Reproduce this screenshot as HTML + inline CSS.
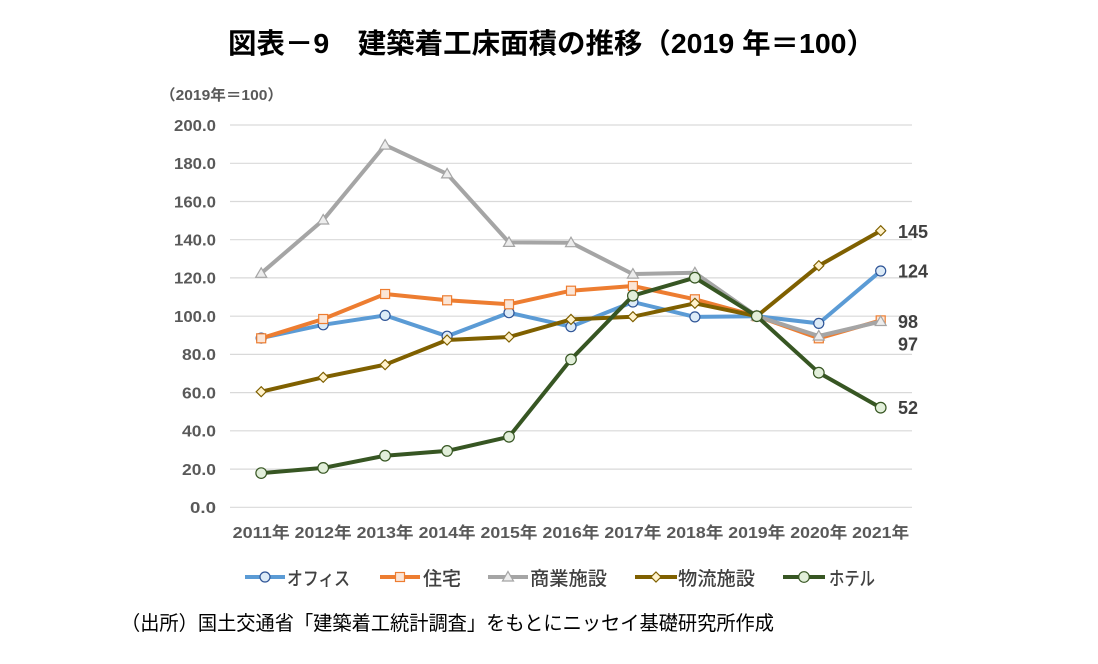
<!DOCTYPE html>
<html>
<head>
<meta charset="utf-8">
<style>
html,body{margin:0;padding:0;background:#fff;}
svg{display:block;}
text{font-family:"Liberation Sans","Noto Sans CJK JP",sans-serif;}
</style>
</head>
<body>
<svg width="1098" height="664" viewBox="0 0 1098 664" xmlns="http://www.w3.org/2000/svg">
<rect width="1098" height="664" fill="#fff"/>
<!-- Title -->
<text x="228" y="53" font-size="28" font-weight="bold" fill="#000" textLength="647" lengthAdjust="spacingAndGlyphs">図表－9　建築着工床面積の推移（2019 年＝100）</text>
<!-- unit -->
<text x="160" y="100" font-size="15" font-weight="bold" fill="#595959" textLength="123" lengthAdjust="spacingAndGlyphs">（2019年＝100）</text>
<!-- gridlines -->
<g stroke="#D9D9D9" stroke-width="1.2">
<line x1="230" x2="912" y1="125.0" y2="125.0"/>
<line x1="230" x2="912" y1="163.3" y2="163.3"/>
<line x1="230" x2="912" y1="201.5" y2="201.5"/>
<line x1="230" x2="912" y1="239.7" y2="239.7"/>
<line x1="230" x2="912" y1="277.9" y2="277.9"/>
<line x1="230" x2="912" y1="316.2" y2="316.2"/>
<line x1="230" x2="912" y1="354.4" y2="354.4"/>
<line x1="230" x2="912" y1="392.6" y2="392.6"/>
<line x1="230" x2="912" y1="430.8" y2="430.8"/>
<line x1="230" x2="912" y1="469.1" y2="469.1"/>
<line x1="230" x2="912" y1="507.3" y2="507.3"/>
</g>
<!-- y labels -->
<g font-size="16" font-weight="bold" fill="#595959">
<text x="174" y="130.8" textLength="42" lengthAdjust="spacingAndGlyphs">200.0</text>
<text x="174" y="169.1" textLength="42" lengthAdjust="spacingAndGlyphs">180.0</text>
<text x="174" y="207.3" textLength="42" lengthAdjust="spacingAndGlyphs">160.0</text>
<text x="174" y="245.5" textLength="42" lengthAdjust="spacingAndGlyphs">140.0</text>
<text x="174" y="283.7" textLength="42" lengthAdjust="spacingAndGlyphs">120.0</text>
<text x="174" y="322.0" textLength="42" lengthAdjust="spacingAndGlyphs">100.0</text>
<text x="182" y="360.2" textLength="34" lengthAdjust="spacingAndGlyphs">80.0</text>
<text x="182" y="398.4" textLength="34" lengthAdjust="spacingAndGlyphs">60.0</text>
<text x="182" y="436.6" textLength="34" lengthAdjust="spacingAndGlyphs">40.0</text>
<text x="182" y="474.9" textLength="34" lengthAdjust="spacingAndGlyphs">20.0</text>
<text x="190" y="513.1" textLength="26" lengthAdjust="spacingAndGlyphs">0.0</text>
</g>
<!-- x labels -->
<g font-size="16" font-weight="bold" fill="#595959" text-anchor="middle">
<text x="261.2" y="538" textLength="57" lengthAdjust="spacingAndGlyphs">2011年</text>
<text x="323.2" y="538" textLength="57" lengthAdjust="spacingAndGlyphs">2012年</text>
<text x="385.1" y="538" textLength="57" lengthAdjust="spacingAndGlyphs">2013年</text>
<text x="447.1" y="538" textLength="57" lengthAdjust="spacingAndGlyphs">2014年</text>
<text x="509.0" y="538" textLength="57" lengthAdjust="spacingAndGlyphs">2015年</text>
<text x="571.0" y="538" textLength="57" lengthAdjust="spacingAndGlyphs">2016年</text>
<text x="632.9" y="538" textLength="57" lengthAdjust="spacingAndGlyphs">2017年</text>
<text x="694.9" y="538" textLength="57" lengthAdjust="spacingAndGlyphs">2018年</text>
<text x="756.8" y="538" textLength="57" lengthAdjust="spacingAndGlyphs">2019年</text>
<text x="818.8" y="538" textLength="57" lengthAdjust="spacingAndGlyphs">2020年</text>
<text x="880.7" y="538" textLength="57" lengthAdjust="spacingAndGlyphs">2021年</text>
</g>

<!-- Office -->
<polyline fill="none" stroke="#5B9BD5" stroke-width="4" stroke-linejoin="round" points="261.2,338.1 323.2,324.8 385.1,315.4 447.1,336.2 509.0,312.7 571.0,326.7 632.9,302.0 694.9,316.9 756.8,316.2 818.8,323.4 880.7,271.0"/>
<g fill="#DDEBF7" stroke="#2F5597" stroke-width="1.2">
<circle cx="261.2" cy="338.1" r="5"/><circle cx="323.2" cy="324.8" r="5"/><circle cx="385.1" cy="315.4" r="5"/><circle cx="447.1" cy="336.2" r="5"/><circle cx="509.0" cy="312.7" r="5"/><circle cx="571.0" cy="326.7" r="5"/><circle cx="632.9" cy="302.0" r="5"/><circle cx="694.9" cy="316.9" r="5"/><circle cx="756.8" cy="316.2" r="5"/><circle cx="818.8" cy="323.4" r="5"/><circle cx="880.7" cy="271.0" r="5"/>
</g>

<!-- Housing -->
<polyline fill="none" stroke="#ED7D31" stroke-width="4" stroke-linejoin="round" points="261.2,338.3 323.2,319.0 385.1,294.0 447.1,300.3 509.0,304.3 571.0,290.7 632.9,286.0 694.9,299.3 756.8,316.2 818.8,338.3 880.7,320.4"/>
<g fill="#FBE5D6" stroke="#ED7D31" stroke-width="1.2">
<rect x="256.7" y="333.8" width="9" height="9"/><rect x="318.7" y="314.5" width="9" height="9"/><rect x="380.6" y="289.5" width="9" height="9"/><rect x="442.6" y="295.8" width="9" height="9"/><rect x="504.5" y="299.8" width="9" height="9"/><rect x="566.5" y="286.2" width="9" height="9"/><rect x="628.4" y="281.5" width="9" height="9"/><rect x="690.4" y="294.8" width="9" height="9"/><rect x="752.3" y="311.7" width="9" height="9"/><rect x="814.3" y="333.8" width="9" height="9"/><rect x="876.2" y="315.9" width="9" height="9"/>
</g>

<!-- Commercial -->
<polyline fill="none" stroke="#A5A5A5" stroke-width="4" stroke-linejoin="round" points="261.2,273.3 323.2,220.0 385.1,145.1 447.1,173.9 509.0,242.4 571.0,242.7 632.9,274.1 694.9,272.8 756.8,316.2 818.8,336.0 880.7,321.5"/>
<g fill="#EDEDED" stroke="#A5A5A5" stroke-width="1.2">
<polygon points="261.2,267.8 266.7,277.3 255.7,277.3"/>
<polygon points="323.2,214.5 328.7,224.0 317.7,224.0"/>
<polygon points="385.1,139.6 390.6,149.1 379.6,149.1"/>
<polygon points="447.1,168.4 452.6,177.9 441.6,177.9"/>
<polygon points="509.0,236.9 514.5,246.4 503.5,246.4"/>
<polygon points="571.0,237.2 576.5,246.7 565.5,246.7"/>
<polygon points="632.9,268.6 638.4,278.1 627.4,278.1"/>
<polygon points="694.9,267.3 700.4,276.8 689.4,276.8"/>
<polygon points="756.8,310.7 762.3,320.2 751.3,320.2"/>
<polygon points="818.8,330.5 824.3,340.0 813.3,340.0"/>
<polygon points="880.7,316.0 886.2,325.5 875.2,325.5"/>
</g>

<!-- Logistics -->
<polyline fill="none" stroke="#7F6000" stroke-width="4" stroke-linejoin="round" points="261.2,391.7 323.2,377.3 385.1,364.7 447.1,340.0 509.0,337.0 571.0,319.4 632.9,316.7 694.9,303.3 756.8,316.2 818.8,265.7 880.7,230.7"/>
<g fill="#FFF2CC" stroke="#7F6000" stroke-width="1.2">
<polygon points="261.2,386.7 266.2,391.7 261.2,396.7 256.2,391.7"/>
<polygon points="323.2,372.3 328.2,377.3 323.2,382.3 318.2,377.3"/>
<polygon points="385.1,359.7 390.1,364.7 385.1,369.7 380.1,364.7"/>
<polygon points="447.1,335.0 452.1,340.0 447.1,345.0 442.1,340.0"/>
<polygon points="509.0,332.0 514.0,337.0 509.0,342.0 504.0,337.0"/>
<polygon points="571.0,314.4 576.0,319.4 571.0,324.4 566.0,319.4"/>
<polygon points="632.9,311.7 637.9,316.7 632.9,321.7 627.9,316.7"/>
<polygon points="694.9,298.3 699.9,303.3 694.9,308.3 689.9,303.3"/>
<polygon points="756.8,311.2 761.8,316.2 756.8,321.2 751.8,316.2"/>
<polygon points="818.8,260.7 823.8,265.7 818.8,270.7 813.8,265.7"/>
<polygon points="880.7,225.7 885.7,230.7 880.7,235.7 875.7,230.7"/>
</g>

<!-- Hotel -->
<polyline fill="none" stroke="#375623" stroke-width="4" stroke-linejoin="round" points="261.2,473.1 323.2,467.9 385.1,455.7 447.1,450.9 509.0,436.8 571.0,359.4 632.9,295.7 694.9,277.7 756.8,316.2 818.8,372.7 880.7,407.7"/>
<g fill="#E2EFDA" stroke="#375623" stroke-width="1.2">
<circle cx="261.2" cy="473.1" r="5.3"/><circle cx="323.2" cy="467.9" r="5.3"/><circle cx="385.1" cy="455.7" r="5.3"/><circle cx="447.1" cy="450.9" r="5.3"/><circle cx="509.0" cy="436.8" r="5.3"/><circle cx="571.0" cy="359.4" r="5.3"/><circle cx="632.9" cy="295.7" r="5.3"/><circle cx="694.9" cy="277.7" r="5.3"/><circle cx="756.8" cy="316.2" r="5.3"/><circle cx="818.8" cy="372.7" r="5.3"/><circle cx="880.7" cy="407.7" r="5.3"/>
</g>

<!-- data labels -->
<g font-size="18" font-weight="bold" fill="#404040">
<text x="898" y="238">145</text>
<text x="898" y="277.5">124</text>
<text x="898" y="328">98</text>
<text x="898" y="350.5">97</text>
<text x="898" y="414">52</text>
</g>

<!-- legend -->
<g>
<line x1="245" x2="285" y1="577" y2="577" stroke="#5B9BD5" stroke-width="4"/>
<circle cx="265" cy="577" r="5" fill="#DDEBF7" stroke="#2F5597" stroke-width="1.2"/>
<text x="287" y="585" font-size="19" font-weight="500" fill="#404040" textLength="63" lengthAdjust="spacingAndGlyphs">オフィス</text>

<line x1="380" x2="420" y1="577" y2="577" stroke="#ED7D31" stroke-width="4"/>
<rect x="395.5" y="572.5" width="9" height="9" fill="#FBE5D6" stroke="#ED7D31" stroke-width="1.2"/>
<text x="423" y="585" font-size="19" font-weight="500" fill="#404040" textLength="38" lengthAdjust="spacingAndGlyphs">住宅</text>

<line x1="488" x2="528" y1="577" y2="577" stroke="#A5A5A5" stroke-width="4"/>
<polygon points="508,571.5 513.5,581 502.5,581" fill="#EDEDED" stroke="#A5A5A5" stroke-width="1.2"/>
<text x="530" y="585" font-size="19" font-weight="500" fill="#404040" textLength="77" lengthAdjust="spacingAndGlyphs">商業施設</text>

<line x1="635" x2="677" y1="577" y2="577" stroke="#7F6000" stroke-width="4"/>
<polygon points="656,572 661,577 656,582 651,577" fill="#FFF2CC" stroke="#7F6000" stroke-width="1.2"/>
<text x="678" y="585" font-size="19" font-weight="500" fill="#404040" textLength="77" lengthAdjust="spacingAndGlyphs">物流施設</text>

<line x1="783" x2="825" y1="577" y2="577" stroke="#375623" stroke-width="4"/>
<circle cx="804" cy="577" r="5.3" fill="#E2EFDA" stroke="#375623" stroke-width="1.2"/>
<text x="829" y="585" font-size="19" font-weight="500" fill="#404040" textLength="46" lengthAdjust="spacingAndGlyphs">ホテル</text>
</g>

<!-- footnote -->
<text x="121" y="630" font-size="20" fill="#000" textLength="653" lengthAdjust="spacingAndGlyphs">（出所）国土交通省「建築着工統計調査」をもとにニッセイ基礎研究所作成</text>
</svg>
</body>
</html>
